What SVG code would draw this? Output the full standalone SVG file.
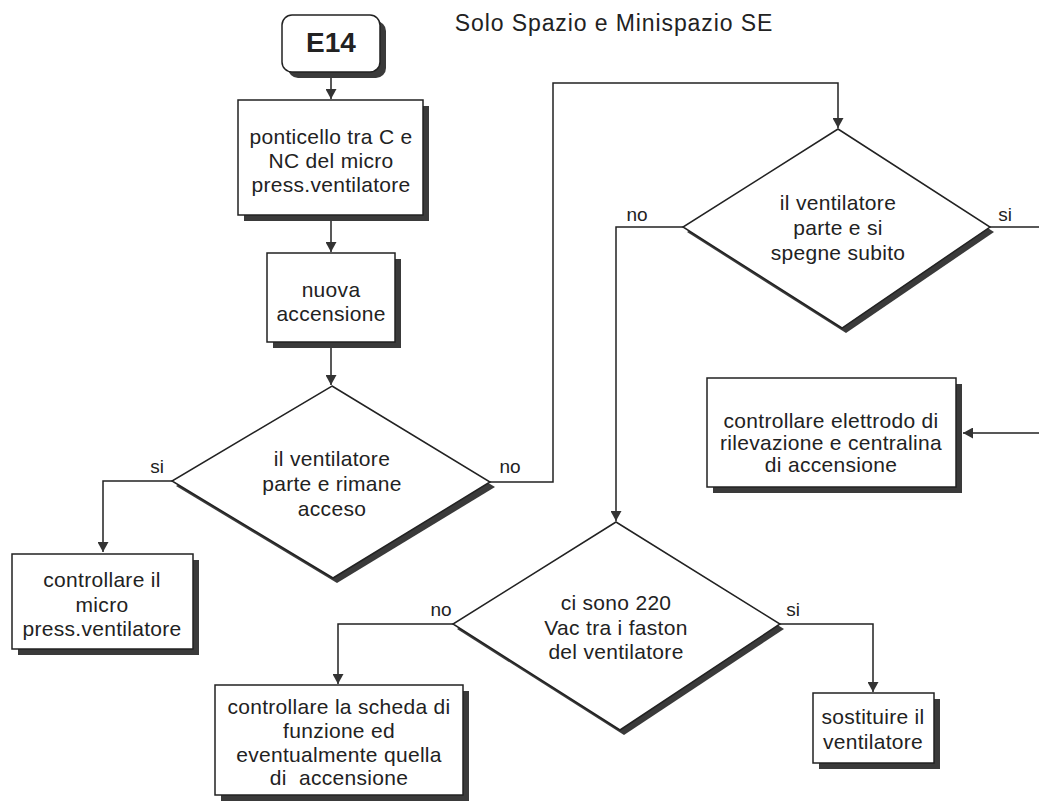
<svg xmlns="http://www.w3.org/2000/svg" width="1039" height="807" viewBox="0 0 1039 807">
<defs>
<style>
.t{font-family:"Liberation Sans",Arial,sans-serif;font-size:21px;fill:#222;text-anchor:middle;letter-spacing:0.3px}
.lbl{font-family:"Liberation Sans",Arial,sans-serif;font-size:19px;fill:#222;text-anchor:middle}
.box{fill:#fff;stroke:#222;stroke-width:1.5}
.sh{fill:#3a3a3a}
.c{fill:none;stroke:#222;stroke-width:1.5}
</style>
<marker id="ah" markerWidth="10" markerHeight="11" refX="10" refY="5.5" orient="auto" markerUnits="userSpaceOnUse">
<path d="M0,0 L10,5.5 L0,11 Z" fill="#333"/>
</marker>
</defs>
<rect width="1039" height="807" fill="#fff"/>
<text x="614" y="31" style="font-family:'Liberation Sans',Arial,sans-serif;font-size:23px;fill:#222;text-anchor:middle;letter-spacing:0.9px">Solo Spazio e Minispazio SE</text>

<g id="connectors">
<path class="c" d="M331,78 V99" marker-end="url(#ah)"/>
<path class="c" d="M331,221 V252" marker-end="url(#ah)"/>
<path class="c" d="M331,348 V385" marker-end="url(#ah)"/>
<path class="c" d="M172,481 H103 V552" marker-end="url(#ah)"/>
<path class="c" d="M490,482 H553 V83 H838 V128" marker-end="url(#ah)"/>
<path class="c" d="M683,227 H616 V521" marker-end="url(#ah)"/>
<path class="c" d="M990,227 H1045 V433 H963" marker-end="url(#ah)"/>
<path class="c" d="M453,624 H338 V684" marker-end="url(#ah)"/>
<path class="c" d="M780,624 H873 V692" marker-end="url(#ah)"/>
<text class="lbl" x="157" y="473">si</text>
<text class="lbl" x="510" y="473">no</text>
<text class="lbl" x="637" y="221">no</text>
<text class="lbl" x="1005" y="221">si</text>
<text class="lbl" x="441" y="616">no</text>
<text class="lbl" x="793" y="616">si</text>
</g>

<g id="start">
<rect class="sh" x="288" y="21" width="98" height="57" rx="10"/>
<rect class="box" x="282" y="15" width="98" height="57" rx="10"/>
<text x="331" y="52" style="font-family:'Liberation Sans',Arial,sans-serif;font-size:28px;font-weight:bold;fill:#222;text-anchor:middle">E14</text>
</g>

<g id="ponticello">
<rect class="sh" x="244" y="106" width="185" height="115"/>
<rect class="box" x="238" y="100" width="185" height="115"/>
<text class="t" x="331" y="144">ponticello tra C e</text>
<text class="t" x="331" y="168">NC del micro</text>
<text class="t" x="331" y="192">press.ventilatore</text>
</g>

<g id="nuova">
<rect class="sh" x="273" y="259" width="128" height="89"/>
<rect class="box" x="267" y="253" width="128" height="89"/>
<text class="t" x="331" y="297">nuova</text>
<text class="t" x="331" y="321">accensione</text>
</g>

<g id="dec1">
<polygon class="sh" points="336,391 495,487 337,583 176,486"/>
<polygon class="box" points="332,386 490,482 333,578 172,481"/>
<text class="t" x="332" y="466">il ventilatore</text>
<text class="t" x="332" y="491">parte e rimane</text>
<text class="t" x="332" y="516">acceso</text>
</g>

<g id="micro">
<rect class="sh" x="18" y="560" width="181" height="95"/>
<rect class="box" x="12" y="554" width="181" height="95"/>
<text class="t" x="102" y="587">controllare il</text>
<text class="t" x="102" y="612">micro</text>
<text class="t" x="102" y="636">press.ventilatore</text>
</g>

<g id="dec2">
<polygon class="sh" points="842,134 994,232 846,333 687,232"/>
<polygon class="box" points="838,129 990,227 842,328 683,227"/>
<text class="t" x="838" y="210">il ventilatore</text>
<text class="t" x="838" y="235">parte e si</text>
<text class="t" x="838" y="260">spegne subito</text>
</g>

<g id="elettrodo">
<rect class="sh" x="713" y="384" width="249" height="109"/>
<rect class="box" x="707" y="378" width="249" height="109"/>
<text class="t" x="831" y="428">controllare elettrodo di</text>
<text class="t" x="831" y="450">rilevazione e centralina</text>
<text class="t" x="831" y="472">di accensione</text>
</g>

<g id="dec3">
<polygon class="sh" points="620,527 784,629 624,735 457,629"/>
<polygon class="box" points="616,522 780,624 620,730 453,624"/>
<text class="t" x="616" y="610">ci sono 220</text>
<text class="t" x="616" y="635">Vac tra i faston</text>
<text class="t" x="616" y="659">del ventilatore</text>
</g>

<g id="scheda">
<rect class="sh" x="221" y="691" width="248" height="110"/>
<rect class="box" x="215" y="685" width="248" height="110"/>
<text class="t" x="339" y="714">controllare la scheda di</text>
<text class="t" x="339" y="738">funzione ed</text>
<text class="t" x="339" y="762">eventualmente quella</text>
<text class="t" x="339" y="785" xml:space="preserve">di  accensione</text>
</g>

<g id="sostituire">
<rect class="sh" x="819" y="699" width="121" height="70"/>
<rect class="box" x="813" y="693" width="121" height="70"/>
<text class="t" x="873" y="724">sostituire il</text>
<text class="t" x="873" y="749">ventilatore</text>
</g>
</svg>
